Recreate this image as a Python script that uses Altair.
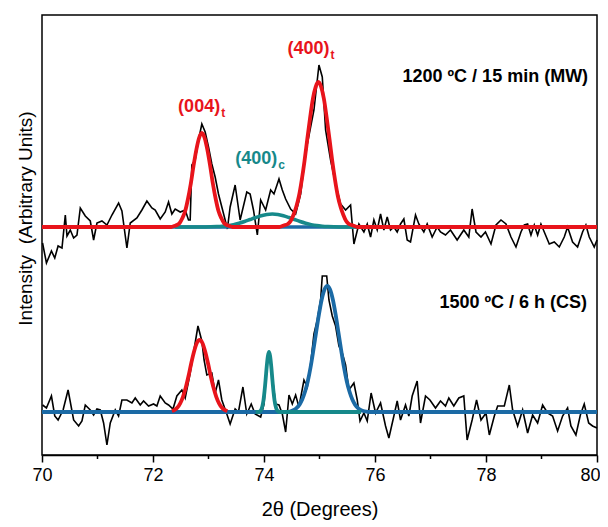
import altair as alt
import pandas as pd

# vertical offset of the upper (MW) pattern above the lower (CS) pattern
TOP_SHIFT = 185

# ---- measured patterns (2theta, intensity relative to own baseline) ----
mw_x = [70.01, 70.08, 70.17, 70.23, 70.29, 70.36, 70.42, 70.45, 70.51, 70.57, 70.63, 70.69, 70.78, 70.87,
        70.93, 70.99, 71.08, 71.17, 71.26, 71.38, 71.44, 71.53, 71.59, 71.71, 71.80, 71.89, 71.98, 72.04,
        72.13, 72.22, 72.28, 72.34, 72.40, 72.49, 72.58, 72.64, 72.67, 72.70, 72.76, 72.82, 72.88, 72.94,
        73.00, 73.06, 73.12, 73.18, 73.24, 73.30, 73.34, 73.39, 73.48, 73.57, 73.69, 73.75, 73.81, 73.88,
        73.94, 74.03, 74.12, 74.18, 74.27, 74.33, 74.39, 74.48, 74.57, 74.66, 74.72, 74.78, 74.84, 74.90,
        74.99, 75.05, 75.11, 75.14, 75.20, 75.29, 75.38, 75.47, 75.56, 75.62, 75.71, 75.80, 75.86, 75.92,
        75.98, 76.04, 76.10, 76.16, 76.22, 76.28, 76.34, 76.40, 76.46, 76.52, 76.58, 76.64, 76.73, 76.79,
        76.88, 76.94, 77.03, 77.12, 77.18, 77.27, 77.36, 77.48, 77.60, 77.69, 77.75, 77.82, 77.91, 77.99,
        78.09, 78.18, 78.27, 78.36, 78.45, 78.54, 78.63, 78.69, 78.75, 78.81, 78.87, 78.93, 78.99, 79.05,
        79.14, 79.23, 79.32, 79.41, 79.47, 79.56, 79.65, 79.74, 79.80, 79.86, 79.95, 80.00]
mw_i = [-16, -36, -24, -31, -19, -21, 12, -9, -3, -11, -8, 19, 11, 6,
        -13, 4, 6, 2, 12, 24, 16, -21, 4, 9, 17, 26, 19, 17,
        8, 15, 25, 13, 18, 15, 17, 7, 7, 62, 67, 87, 103, 95,
        80, 63, 50, 33, 20, 7, -2, 20, 42, 7, 35, 33, 17, -8,
        27, 17, 37, 33, 48, 37, 28, 18, 13, 33, 60, 83, 100, 117,
        162, 150, 97, 87, 67, 43, 23, 17, 22, -17, 3, -5, 3, -10,
        7, -3, 13, -3, 10, -3, 0, -5, 3, 8, -13, -15, 12, 3,
        -5, 3, -10, 0, -5, -8, -3, -13, -3, -10, 18, -5, -10, -5,
        -17, 2, 7, 3, -10, -20, -5, 2, 3, -8, 2, -8, 3, -5,
        -17, -15, -20, -10, 0, -15, -20, -5, 2, -10, -20, -13]

cs_x = [70.01, 70.08, 70.17, 70.23, 70.29, 70.38, 70.47, 70.57, 70.66, 70.72, 70.78, 70.87, 70.93, 70.99,
        71.05, 71.11, 71.17, 71.23, 71.32, 71.38, 71.44, 71.53, 71.62, 71.68, 71.77, 71.83, 71.92, 72.01,
        72.07, 72.13, 72.22, 72.28, 72.36, 72.43, 72.52, 72.58, 72.67, 72.73, 72.81, 72.88, 72.92, 72.97,
        73.06, 73.12, 73.18, 73.24, 73.33, 73.39, 73.48, 73.54, 73.62, 73.69, 73.77, 73.84, 73.94, 74.00,
        74.06, 74.10, 74.15, 74.21, 74.27, 74.33, 74.39, 74.45, 74.51, 74.57, 74.63, 74.72, 74.78, 74.84,
        74.90, 74.96, 75.02, 75.05, 75.13, 75.17, 75.23, 75.29, 75.35, 75.41, 75.47, 75.53, 75.62, 75.68,
        75.73, 75.80, 75.86, 75.93, 76.01, 76.10, 76.19, 76.25, 76.34, 76.40, 76.46, 76.55, 76.61, 76.67,
        76.76, 76.82, 76.91, 76.99, 77.09, 77.18, 77.27, 77.33, 77.42, 77.51, 77.60, 77.66, 77.75, 77.83,
        77.91, 78.00, 78.06, 78.15, 78.21, 78.33, 78.42, 78.48, 78.57, 78.66, 78.75, 78.84, 78.93, 79.02,
        79.11, 79.20, 79.29, 79.38, 79.47, 79.53, 79.62, 79.70, 79.77, 79.85, 79.92, 80.00]
cs_i = [7, 4, 16, -4, -8, 2, 22, -8, -14, -9, 7, 2, -3, 3,
        2, -11, -33, -11, 2, -4, 12, 12, 9, 14, 7, 11, 6, 8,
        6, 16, 9, 7, 3, 16, 22, 14, 39, 59, 86, 71, 52, 37,
        39, 19, 32, 12, -2, -12, 3, 0, 25, -2, 8, -2, -5, 8,
        52, 60, 35, 8, 7, -2, -20, 17, 8, 17, 5, 32, 25, 48,
        78, 92, 112, 136, 136, 112, 96, 86, 66, 59, 47, 22, 29, 12,
        -9, -1, -9, 19, -1, 9, -14, -26, -4, 11, -8, 7, -4, 16,
        31, -11, 16, 12, 4, 11, 6, 14, 6, 14, 16, -28, -8, 12,
        -8, -1, -23, -4, 6, 6, 27, 2, -14, 2, -21, -3, -11, 7,
        -1, -4, -19, -4, 4, -14, -23, -3, 8, -11, -14, -16]

# ---- fitted profiles ----
mw_base_x = [70, 80]
mw_base_i = [0, 0]

mw_c_x = [72.4, 72.95, 73.15, 73.25, 73.35, 73.45, 73.55, 73.65, 73.75, 73.85, 73.95, 74.05, 74.15,
          74.25, 74.35, 74.45, 74.55, 74.65, 74.75, 74.85, 74.95, 75.05, 75.15, 75.35, 75.7]
mw_c_i = [0, 0, 0.4, 0.8, 1.4, 2.4, 3.8, 5.5, 7.5, 9.5, 11.3, 12.6, 13,
          12.6, 11.3, 9.5, 7.5, 5.5, 3.8, 2.4, 1.4, 0.8, 0.4, 0, 0]

mw_t_x = [70, 72.33, 72.38, 72.43, 72.48, 72.53, 72.58, 72.63, 72.68, 72.73, 72.78, 72.83, 72.88,
          72.93, 72.98, 73.03, 73.08, 73.13, 73.18, 73.23, 73.28, 73.33, 73.38, 73.43,
          74.28, 74.33, 74.38, 74.43, 74.48, 74.53, 74.58, 74.63, 74.68, 74.73, 74.78, 74.83, 74.88,
          74.93, 74.98, 75.03, 75.08, 75.13, 75.18, 75.23, 75.28, 75.33, 75.38, 75.43, 75.48, 75.53,
          75.58, 75.63, 75.68, 80]
mw_t_i = [0, 0, 1, 2, 4, 9, 16, 28, 43, 61, 77, 89, 94,
          89, 77, 61, 43, 28, 16, 9, 4, 2, 1, 0,
          0, 1, 2, 3, 6, 12, 20, 31, 47, 66, 88, 109, 128,
          140, 145, 140, 128, 109, 88, 66, 47, 31, 20, 12, 6, 3,
          2, 1, 0, 0]

cs_b_x = [70, 74.44, 74.49, 74.54, 74.59, 74.64, 74.69, 74.74, 74.79, 74.84, 74.89, 74.94, 74.99,
          75.04, 75.09, 75.14, 75.19, 75.24, 75.29, 75.34, 75.39, 75.44, 75.49, 75.54, 75.59, 75.64,
          75.69, 75.74, 75.79, 75.84, 75.9, 80]
cs_b_i = [0, 0, 1, 2.1, 4.1, 7.4, 12.7, 20.5, 31, 45, 62, 80, 97.6,
          112.5, 122.5, 126, 122.5, 112.5, 97.6, 80, 62, 45, 31, 20.5, 12.7, 7.4,
          4.1, 2.1, 1, 0.4, 0, 0]

cs_t_x = [72.34, 72.39, 72.44, 72.49, 72.54, 72.59, 72.64, 72.69, 72.74, 72.79, 72.84,
          72.89, 72.94, 72.99, 73.04, 73.09, 73.14, 73.19, 73.24, 73.29, 73.34]
cs_t_i = [1, 2.2, 4.5, 8.7, 15.2, 24.4, 36, 49, 60.5, 69, 72,
          69, 60.5, 49, 36, 24.4, 15.2, 8.7, 4.5, 2.2, 1]

cs_c_x = [73.85, 73.91, 73.93, 73.95, 73.97, 73.99, 74.01, 74.03, 74.05, 74.07, 74.09,
          74.11, 74.13, 74.15, 74.17, 74.19, 74.21, 74.23, 74.25, 74.27, 75.75]
cs_c_i = [0, 0, 0.9, 2.3, 5.6, 11.5, 21, 33, 46, 56, 60,
          56, 46, 33, 21, 11.5, 5.6, 2.3, 0.9, 0, 0]

# ---- annotations ----
peak_text = ["(004)", "(400)", "(400)"]
peak_sub = ["t", "t", "c"]
peak_x = [73.21, 75.18, 74.24]
peak_y = [305, 363, 253]
peak_col = ["#e8141b", "#e8141b", "#16898a"]

cond_text = ["1200 \u00baC / 15 min (MW)", "1500 \u00baC / 6 h (CS)"]
cond_x = [79.84, 79.82]
cond_y = [335, 109]

minor_ticks = [71, 73, 75, 77, 79]
major_ticks = [70, 72, 74, 76, 78, 80]

RED = "#e8141b"
TEAL = "#16898a"
BLUE = "#1b6aa5"
FONT = "Liberation Sans"


def frame(xs, ys, shift=0):
    assert len(xs) == len(ys)
    return pd.DataFrame({"x": xs, "y": [v + shift for v in ys]})


X = alt.X("x:Q", scale=alt.Scale(domain=[70, 80], nice=False, zero=False),
          axis=alt.Axis(values=major_ticks, format="d", tickSize=7, tickWidth=1.5, tickColor="black",
                        domainColor="black", domainWidth=1.5, labelFontSize=18, labelColor="black",
                        labelFont=FONT, labelPadding=4, labelFlush=False, grid=False,
                        labelAlign={"condition": {"test": "datum.value == 80", "value": "right"},
                                    "value": "center"},
                        labelOffset={"condition": {"test": "datum.value == 80", "value": 3},
                                     "value": 0},
                        title="2\u03b8 (Degrees)", titleFont=FONT, titleFontSize=20,
                        titleFontWeight="normal", titleColor="black", titlePadding=15))
Y = alt.Y("y:Q", scale=alt.Scale(domain=[-43, 397], nice=False, zero=False),
          axis=alt.Axis(labels=False, ticks=False, domain=False, grid=False,
                        title="Intensity\u00a0 (Arbitrary Units)", titleFont=FONT, titleFontSize=19,
                        titleFontWeight="normal", titleColor="black", titleAngle=-90,
                        titleAlign="center", titleBaseline="middle", titleX=-17, titleY=203))


def line(d, color, width, interp="linear"):
    return alt.Chart(d).mark_line(color=color, strokeWidth=width, interpolate=interp).encode(x=X, y=Y)


layers = [
    line(frame(mw_x, mw_i, TOP_SHIFT), "black", 1.6),
    line(frame(cs_x, cs_i), "black", 1.6),
    line(frame(mw_base_x, mw_base_i, TOP_SHIFT), BLUE, 3.5),
    line(frame(mw_c_x, mw_c_i, TOP_SHIFT), TEAL, 3.5, "monotone"),
    line(frame(mw_t_x, mw_t_i, TOP_SHIFT), RED, 3.8, "monotone"),
    line(frame(cs_b_x, cs_b_i), BLUE, 3.8, "monotone"),
    line(frame(cs_t_x, cs_t_i), RED, 3.8, "monotone"),
    line(frame(cs_c_x, cs_c_i), TEAL, 3.8, "monotone"),
]

minor_df = pd.DataFrame({"x": minor_ticks})
layers.append(alt.Chart(minor_df).mark_rule(color="black", strokeWidth=1.5).encode(
    x=X, y=alt.value(440), y2=alt.value(444)))

pk = pd.DataFrame({"x": peak_x, "y": peak_y, "text": peak_text, "c": peak_col})
layers.append(alt.Chart(pk).mark_text(align="right", baseline="middle", font=FONT, fontSize=18,
                                      fontWeight="bold").encode(
    x=X, y=Y, text="text:N", color=alt.Color("c:N", scale=None)))
sub = pd.DataFrame({"x": peak_x, "y": peak_y, "text": peak_sub, "c": peak_col})
layers.append(alt.Chart(sub).mark_text(align="left", baseline="middle", font=FONT, fontSize=12,
                                       fontWeight="bold", dx=1, dy=6).encode(
    x=X, y=Y, text="text:N", color=alt.Color("c:N", scale=None)))
cd = pd.DataFrame({"x": cond_x, "y": cond_y, "text": cond_text})
layers.append(alt.Chart(cd).mark_text(align="right", baseline="middle", font=FONT, fontSize=18,
                                      fontWeight="bold", color="black").encode(
    x=X, y=Y, text="text:N"))

chart = alt.layer(*layers).properties(
    width=555, height=440,
    padding={"left": 34, "top": 7, "right": 3, "bottom": 70},
    autosize=alt.AutoSizeParams(type="none"),
    background="white",
).configure_view(stroke="black", strokeWidth=1.5)

chart.save("out.html", embed_options={"renderer": "svg", "actions": False})
